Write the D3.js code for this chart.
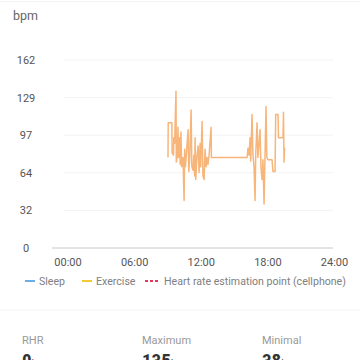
<!DOCTYPE html>
<html><head><meta charset="utf-8">
<script src="https://cdn.jsdelivr.net/npm/d3@7"></script>
<style>
html,body{margin:0;padding:0;background:#fff;}
svg{display:block;font-family:Roboto,"Noto Sans",sans-serif;}
</style></head>
<body><div id="chart"></div>
<script>
// Data
const yTicks = [0, 32.4, 64.8, 97.2, 129.6, 162];
const xTickHours = [0, 6, 12, 18, 24];
const xTickLabels = ["00:00", "06:00", "12:00", "18:00", "24:00"];
const hours = [9.05,9.07,9.40,9.42,9.55,9.57,9.65,9.77,9.80,9.90,9.95,10.0,10.1,10.15,10.22,10.28,10.40,10.50,10.55,10.62,10.70,10.86,10.92,11.0,11.13,11.2,11.31,11.38,11.45,11.49,11.55,11.65,11.76,11.85,11.94,12.0,12.12,12.2,12.30,12.39,12.48,12.57,12.65,12.75,12.93,12.96,16.17,16.26,16.35,16.44,16.5,16.62,16.7,16.8,16.89,16.95,17.07,17.15,17.25,17.34,17.42,17.52,17.6,17.70,17.80,17.88,17.95,18.06,18.42,18.5,18.69,18.75,18.96,19.0,19.41,19.45,19.5,19.55,19.59];
const bpm = [78,108,108,82,80,95,90,135,74,80,104,78,95,72,100,70,78,41,85,70,80,102,66,75,119,70,67,80,62,95,59,78,88,65,90,70,109,62,59,85,70,78,72,80,104,78,78,86,80,95,75,115,80,70,41,80,108,78,90,102,70,59,76,38,85,122,78,76,76,66,66,115,115,95,95,117,74,86,86];
const legendLabels = ["Sleep", "Exercise", "Heart rate estimation point (cellphone)"];
const legendColors = ["#5aa5e6", "#f5c21b", "#e8365d"];
const statLabels = ["RHR", "Maximum", "Minimal"];
const statValues = ["0", "135", "38"];

const W = 360, H = 360;
const svg = d3.select("#chart").append("svg").attr("width", W).attr("height", H);

const x = d3.scaleLinear().domain([0, 24]).range([67.5, 334]);
const y = d3.scaleLinear().domain([0, 162]).range([248, 60]);

svg.append("line").attr("x1",0).attr("x2",W).attr("y1",1.5).attr("y2",1.5).attr("stroke","#f2f2f2");

svg.append("text").attr("x", 13).attr("y", 20).attr("font-size", 12.5).attr("fill", "#666").text("bpm");

// gridlines
svg.append("g").selectAll("line").data(yTicks.slice(1)).join("line")
  .attr("x1", 64).attr("x2", 333).attr("y1", d => y(d)).attr("y2", d => y(d))
  .attr("stroke", "#f3f3f3").attr("stroke-width", 1);

// y labels
svg.append("g").selectAll("text").data(yTicks).join("text")
  .attr("x", 26).attr("y", d => y(d) + 4).attr("text-anchor", "middle")
  .attr("font-size", 11).attr("fill", "#555").text(d => Math.floor(d));

// x axis
const xAxis = d3.axisBottom(x).tickValues(xTickHours).tickFormat((d, i) => xTickLabels[i]).tickSize(0).tickPadding(10);
const gx = svg.append("g").attr("transform", "translate(0,248)").call(xAxis);
gx.select(".domain").remove();
gx.selectAll("text").attr("font-size", 11).attr("fill", "#555").attr("font-family", "Roboto,sans-serif");
svg.append("line").attr("x1", 52).attr("x2", 333).attr("y1", 248).attr("y2", 248).attr("stroke", "#c8c8c8").attr("stroke-width", 1);

// line
const pts = hours.map((h, i) => [h, bpm[i]]);
svg.append("path").datum(pts)
  .attr("fill", "none").attr("stroke", "#f8b57a").attr("stroke-width", 1.5).attr("stroke-linejoin", "round")
  .attr("d", d3.line().x(d => x(d[0])).y(d => y(d[1])));

// legend
const lg = svg.append("g");
const lx = [25, 82, 145];
legendLabels.forEach((t, i) => {
  if (i < 2) {
    lg.append("line").attr("x1", lx[i]).attr("x2", lx[i] + 10).attr("y1", 281).attr("y2", 281)
      .attr("stroke", legendColors[i]).attr("stroke-width", 1.8);
  } else {
    lg.append("line").attr("x1", lx[i]).attr("x2", lx[i] + 14).attr("y1", 281).attr("y2", 281)
      .attr("stroke", legendColors[i]).attr("stroke-width", 1.8).attr("stroke-dasharray", "3,2");
  }
  lg.append("text").attr("x", lx[i] + (i < 2 ? 14 : 19)).attr("y", 285).attr("font-size", 10.6).attr("fill", "#808080").text(t);
});

svg.append("line").attr("x1", 0).attr("x2", W).attr("y1", 310).attr("y2", 310).attr("stroke", "#f2f2f2");

// stats
const sx = [22, 142, 262];
statLabels.forEach((t, i) => {
  svg.append("text").attr("x", sx[i]).attr("y", 344).attr("font-size", 11).attr("fill", "#999").text(t);
  const tt = svg.append("text").attr("x", sx[i]).attr("y", 367).attr("fill", "#333");
  tt.append("tspan").attr("font-size", 19).attr("font-weight", "bold").attr("font-family", "'Roboto Condensed','Liberation Sans Narrow',Roboto,sans-serif").text(statValues[i]);
  tt.append("tspan").attr("font-size", 11).attr("fill", "#666").text("bpm");
});
</script></body></html>
